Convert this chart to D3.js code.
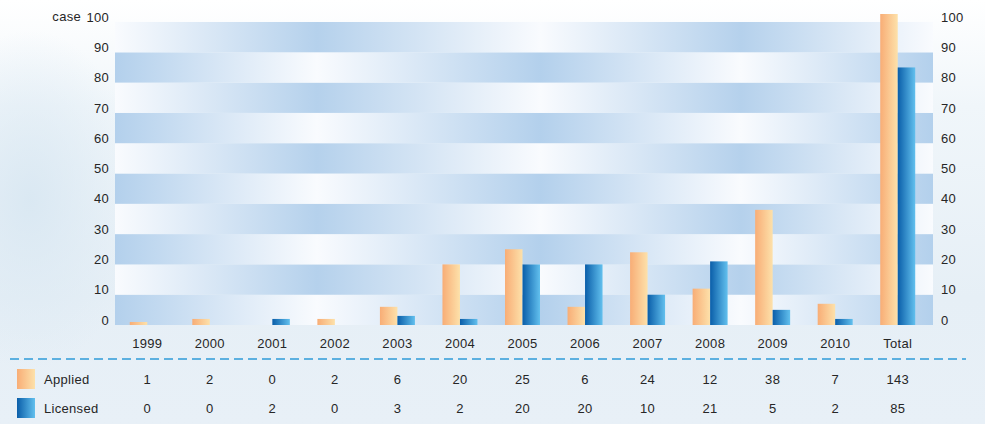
<!DOCTYPE html>
<html><head><meta charset="utf-8">
<script src="https://cdn.jsdelivr.net/npm/d3@7/dist/d3.min.js"></script>
<style>
html,body{margin:0;padding:0;background:#fff;}
svg{display:block;}
text{font-family:"Liberation Sans",Arial,sans-serif;font-size:13px;fill:#262626;letter-spacing:0.3px;}
</style></head>
<body>
<svg id="chart" width="985" height="424"></svg>
<script>
const categories = ["1999","2000","2001","2002","2003","2004","2005","2006","2007","2008","2009","2010","Total"];
const applied  = [1,2,0,2,6,20,25,6,24,12,38,7,143];
const licensed = [0,0,2,0,3,2,20,20,10,21,5,2,85];
const seriesNames = ["Applied","Licensed"];
const yTicks = [0,10,20,30,40,50,60,70,80,90,100];
const yLabel = "case";

const svg = d3.select("#chart");
const W = 985, H = 424;
const defs = svg.append("defs");
const FONT = "Liberation Sans, Arial, sans-serif";

// background
const bg = defs.append("linearGradient").attr("id","bg").attr("x1",0).attr("y1",0).attr("x2",0).attr("y2",1);
bg.append("stop").attr("offset",0).attr("stop-color","#ffffff");
bg.append("stop").attr("offset",0.25).attr("stop-color","#f0f6fa");
bg.append("stop").attr("offset",0.7).attr("stop-color","#e6eff6");
bg.append("stop").attr("offset",1).attr("stop-color","#e8f0f7");
svg.append("rect").attr("width",W).attr("height",H).attr("fill","url(#bg)");
const glow = defs.append("radialGradient").attr("id","glow").attr("cx",0.5).attr("cy",0.5).attr("r",0.5);
glow.append("stop").attr("offset",0).attr("stop-color","#d8e7f2").attr("stop-opacity",0.9);
glow.append("stop").attr("offset",1).attr("stop-color","#d8e7f2").attr("stop-opacity",0);
svg.append("ellipse").attr("cx",30).attr("cy",200).attr("rx",110).attr("ry",170).attr("fill","url(#glow)");

// scales
const x0 = d3.scaleBand().domain(categories).range([116,929]).padding(0);
const y = d3.scaleLinear().domain([0,100]).range([325,22]);
const barW = 17.5;
const x1 = d3.scaleBand().domain(seriesNames).range([0, barW*2]);

// stripes
const plotL = 115, plotR = 933;
function stripeGrad(id, a, b){
  const g = defs.append("linearGradient").attr("id",id).attr("gradientUnits","userSpaceOnUse")
    .attr("x1",plotL).attr("x2",plotR).attr("y1",0).attr("y2",0);
  const pts = [[0,a],[0.247,b],[0.52,a],[0.765,b],[1,a]];
  pts.forEach(p=>g.append("stop").attr("offset",p[0]).attr("stop-color",p[1]));
}
stripeGrad("stripeBlue","#b3d0ec","#f9fbfe");
stripeGrad("stripeWhite","#f9fbfe","#b5d1ec");
const bands = d3.range(0,100,10);
svg.append("g").selectAll("rect").data(bands).join("rect")
  .attr("x",plotL).attr("width",plotR-plotL)
  .attr("y",d=>y(d+10)).attr("height",d=>y(d)-y(d+10))
  .attr("fill",d=>(d/10)%2===0?"url(#stripeBlue)":"url(#stripeWhite)");

// bar gradients
function hGrad(id,c1,c2){
  const g = defs.append("linearGradient").attr("id",id).attr("x1",0).attr("x2",1).attr("y1",0).attr("y2",0);
  g.append("stop").attr("offset",0).attr("stop-color",c1);
  g.append("stop").attr("offset",1).attr("stop-color",c2);
}
hGrad("gA","#f8ad76","#fde1aa");
hGrad("gL","#0a5ea9","#62c0ee");
const fills = {Applied:"url(#gA)", Licensed:"url(#gL)"};

defs.append("clipPath").attr("id","clip").append("rect").attr("x",0).attr("y",14).attr("width",W).attr("height",H);

const rows = categories.map((c,i)=>({cat:c, Applied:applied[i], Licensed:licensed[i]}));
const gBars = svg.append("g").attr("clip-path","url(#clip)");
rows.forEach(r=>{
  seriesNames.forEach(s=>{
    const v = r[s];
    if(v<=0) return;
    gBars.append("rect")
      .attr("x", x0(r.cat)+x0.bandwidth()/2-barW+x1(s))
      .attr("width", barW)
      .attr("y", y(v))
      .attr("height", y(0)-y(v))
      .attr("fill", fills[s]);
  });
});

function styleText(sel){
  sel.style("font-family",FONT).style("font-size","13px").attr("fill","#262626");
}
// axes
const left = svg.append("g").attr("transform","translate(109,0)")
  .call(d3.axisLeft(y).tickValues(yTicks).tickSize(0).tickPadding(0));
left.select(".domain").remove();
left.selectAll("text").attr("dy","0.32em").attr("transform","translate(0,-5)").call(styleText);
svg.append("text").attr("x",81).attr("y",y(100)-5).attr("dy","0.32em").attr("text-anchor","end").text(yLabel);

const right = svg.append("g").attr("transform","translate(941,0)")
  .call(d3.axisRight(y).tickValues(yTicks).tickSize(0).tickPadding(0));
right.select(".domain").remove();
right.selectAll("text").attr("dy","0.32em").attr("transform","translate(0,-5)").call(styleText);

// category labels
const bottom = svg.append("g").attr("transform","translate(0,344)")
  .call(d3.axisBottom(x0).tickSize(0).tickPadding(0));
bottom.select(".domain").remove();
bottom.selectAll("text").attr("dy","0.32em").call(styleText);

// dashed separator
svg.append("line").attr("x1",10).attr("x2",966).attr("y1",359).attr("y2",359)
  .attr("stroke","#5cb0e0").attr("stroke-width",2).attr("stroke-dasharray","9,5");

// table
const rowY = {Applied:380, Licensed:409};
const dataBy = {Applied:applied, Licensed:licensed};
seriesNames.forEach(s=>{
  svg.append("rect").attr("x",17).attr("y",rowY[s]-11).attr("width",18).attr("height",20).attr("fill",fills[s]);
  svg.append("text").attr("x",44).attr("y",rowY[s]).attr("dy","0.32em").text(s);
  svg.append("g").selectAll("text").data(dataBy[s]).join("text")
    .attr("x",(d,i)=>x0(categories[i])+x0.bandwidth()/2)
    .attr("y",rowY[s]).attr("dy","0.32em").attr("text-anchor","middle").text(d=>d);
});
</script>
</body></html>
